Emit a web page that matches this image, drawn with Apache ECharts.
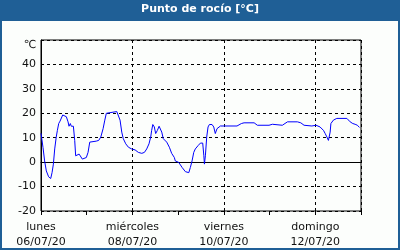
<!DOCTYPE html>
<html><head><meta charset="utf-8">
<script src="https://cdn.jsdelivr.net/npm/echarts@6/dist/echarts.min.js"></script>
<style>html,body{margin:0;padding:0;background:#fff}#c{width:400px;height:250px}</style>
</head><body><div id="c"></div>
<script>
const titleText = 'Punto de rocío [°C]';
const dayNames = ['lunes', 'martes', 'miércoles', 'jueves', 'viernes', 'sábado', 'domingo'];
const dayDates = ['06/07/20', '07/07/20', '08/07/20', '09/07/20', '10/07/20', '11/07/20', '12/07/20'];
const hours = [0,1.05,1.9,2.8,4.0,5.1,5.8,6.5,7.2,8.0,8.6,9.3,10.0,10.7,11.4,12.4,13.3,14.2,14.7,15.4,15.9,17.0,17.7,18.2,19.1,20.0,20.9,21.7,22.6,23.8,24.7,25.6,26.4,29.0,30.3,31.4,32.6,33.5,34.3,35.3,39.8,40.6,41.5,42.4,43.2,44.5,45.9,47.6,49.4,51.1,52.9,54.3,55.5,56.7,57.6,58.1,58.7,59.5,60.2,61.1,62.0,62.5,63.4,64.2,66.0,67.4,68.6,70.0,70.5,72.3,74.1,75.8,76.7,77.6,78.4,79.3,80.2,81.0,82.5,83.7,84.9,85.5,85.8,86.3,87.0,87.7,88.4,89.8,90.7,91.5,92.4,93.3,94.2,102.9,105.2,106.6,111.9,113.6,119.7,121.5,122.4,126.7,129.4,134.6,136.4,138.1,142.2,143.0,144.4,146.5,148.3,149.2,150.1,150.9,151.8,152.2,153.5,155.3,160.6,162.3,163.7,164.9,166.1,167.2];
const dewPoint = [11.8,6,0.5,-3.6,-6,-6.7,-4.3,-0.8,5.4,10.3,13,15.8,16.8,17.2,19.3,20,18.6,16.5,14.7,15.8,14.7,14.7,8.9,2.6,1.9,3.3,2.6,1.25,0.5,1.9,4,8.2,8.6,8.6,8.9,10.3,13.7,17.2,20,20.7,20.7,20,17.2,12.3,9.6,7.5,6.1,5.4,5,4,3.6,4,5.4,7.5,10.3,13,15.4,14.4,11.7,13,14.7,15.1,12.3,9.6,8.2,6.1,3.6,1.9,0.5,-0.1,-2.2,-3.9,-3.6,-4.3,-2.2,0.5,4,5.4,6.8,7.8,7.8,2.6,-0.8,2.6,10.3,14.4,15.4,15.4,14.4,11.7,13.7,14.4,14.8,14.8,15.8,16.1,16.1,15.1,15.1,15.5,15.1,15.1,16.5,16.5,16.1,15.1,14.8,15.1,15.1,14.4,13,11.7,10.3,8.9,12.3,15.8,17.2,17.9,17.9,16.5,15.8,15.5,15.1,14.2];
const yTop = 50, yBottom = -20, yStep = 10, unitLabel = '℃';

const chart = echarts.init(document.getElementById('c'), null, {renderer: 'canvas'});
const font = 'DejaVu Sans';
chart.setOption({
  animation: false,
  backgroundColor: '#1f5f96',
  graphic: [
    {type: 'rect', left: 2, top: 21, shape: {width: 396, height: 227}, style: {fill: '#fcfefc'}, z: -10},
    {type: 'text', left: 'center', top: 4, style: {text: titleText, fill: '#ffffff', font: 'bold 11px "DejaVu Sans"'}}
  ],
  grid: {left: 41, right: 39, top: 40, bottom: 39, show: true, borderColor: '#000', borderWidth: 1, backgroundColor: 'transparent'},
  xAxis: [{
    type: 'value', min: 0, max: 168, interval: 48, position: 'bottom',
    axisLine: {lineStyle: {color: '#000', width: 1}},
    axisTick: {show: false},
    splitLine: {show: true, lineStyle: {color: '#000', type: [3, 3], width: 1}},
    axisLabel: {
      color: '#111', fontFamily: font, fontSize: 11, margin: 9, lineHeight: 15, showMaxLabel: false,
      formatter: v => (v % 48 === 0 && v < 168) ? dayNames[v / 24] + '\n' + dayDates[v / 24] : ''
    }
  }, {
    type: 'value', min: 0, max: 168, interval: 24, position: 'bottom',
    axisLine: {show: false}, axisLabel: {show: false}, splitLine: {show: false},
    axisTick: {show: true, length: 4, lineStyle: {color: '#000'}}
  }],
  yAxis: {
    type: 'value', min: yBottom, max: yTop, interval: yStep,
    axisLine: {show: true, lineStyle: {color: '#000'}},
    axisTick: {show: false},
    splitLine: {show: true, lineStyle: {color: '#000', type: [3, 3], width: 1}},
    axisLabel: {
      color: '#111', fontFamily: font, fontSize: 11, margin: 5,
      formatter: v => v === yTop ? '{u|' + unitLabel + '}' : String(v),
      rich: {u: {fontFamily: font, fontSize: 11, color: '#111', padding: [10, 0, 0, 0]}}
    }
  },
  series: [{
    type: 'line', xAxisIndex: 0, symbol: 'none', smooth: false,
    lineStyle: {color: '#0000ff', width: 1},
    data: hours.map((h, i) => [h, dewPoint[i]])
  }]
});
</script></body></html>
